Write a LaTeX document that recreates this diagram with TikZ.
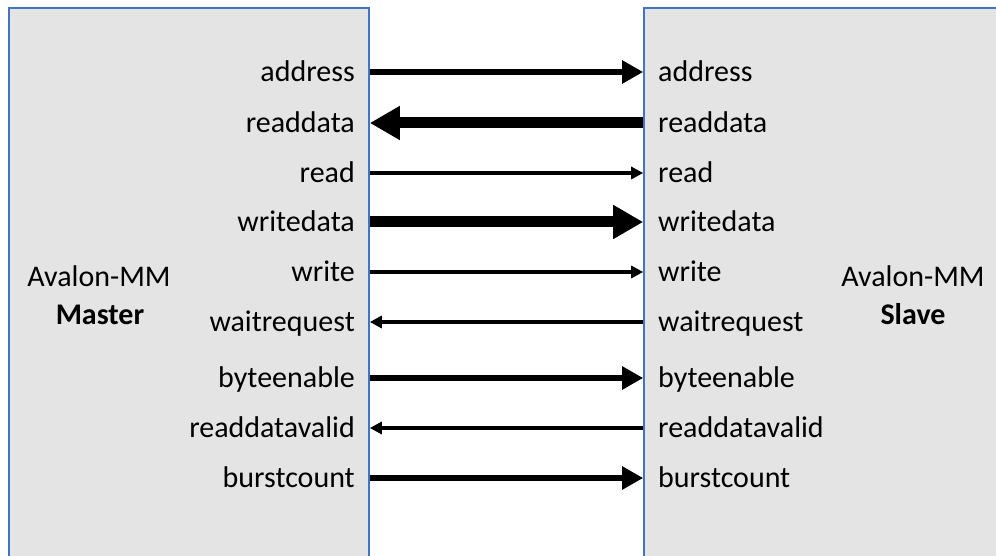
\documentclass[tikz,border=0pt]{standalone}
\usepackage{fontspec}
\setmainfont{Carlito}
\usetikzlibrary{arrows.meta}
\definecolor{boxfill}{RGB}{228,228,228}
\definecolor{boxline}{RGB}{68,114,196}
\begin{document}
\begin{tikzpicture}[x=1pt,y=-1pt,
  font=\fontsize{30}{36}\selectfont,
  unit/.style={draw=boxline,line width=1.6pt,fill=boxfill,inner sep=0pt},
  lsig/.style={anchor=base east,inner sep=0pt},
  rsig/.style={anchor=base west,inner sep=0pt},
  thin/.style={line width=3.5pt,-{Triangle[length=12pt,width=12pt]}},
  mid/.style={line width=6pt,-{Triangle[length=21pt,width=22pt]}},
  fat/.style={line width=11pt,-{Triangle[length=30pt,width=32pt]}}]
\clip (0,0) rectangle (996,556);
\useasboundingbox (0,0) rectangle (996,556);
\fill[white] (0,0) rectangle (996,556);

% the two interface blocks
\node[unit,minimum width=360pt,minimum height=592pt] (master) at (189,304) {};
\node[unit,minimum width=366pt,minimum height=592pt] (slave) at (827,304) {};

% block titles
\node[inner sep=0pt,anchor=base] (mt1) at (99,286) {Avalon-MM};
\node[inner sep=0pt,anchor=base] (mt2) at (100,324) {\bfseries Master};
\node[inner sep=0pt,anchor=base] (st1) at (913,286) {Avalon-MM};
\node[inner sep=0pt,anchor=base] (st2) at (913,324) {\bfseries Slave};

% signal rows: name, vertical position
\foreach \n/\y in {1/72,2/123,3/173,4/222,5/272,6/322,7/378,8/428,9/478}{
  \coordinate (row\n) at (0,\y);
}
\foreach \n/\t in {1/address,2/readdata,3/read,4/writedata,5/write,
                   6/waitrequest,7/byteenable,8/readdatavalid,9/burstcount}{
  \node[lsig] (ml\n) at ([yshift=-9.5pt]355,0 |- row\n) {\t};
  \node[rsig] (sl\n) at ([yshift=-9.5pt]658,0 |- row\n) {\t};
}

% connections
\draw[mid]  (master.east |- row1) -- (slave.west |- row1);
\draw[fat]  (slave.west |- row2) -- (master.east |- row2);
\draw[thin] (master.east |- row3) -- (slave.west |- row3);
\draw[fat]  (master.east |- row4) -- (slave.west |- row4);
\draw[thin] (master.east |- row5) -- (slave.west |- row5);
\draw[thin] (slave.west |- row6) -- (master.east |- row6);
\draw[mid]  (master.east |- row7) -- (slave.west |- row7);
\draw[thin] (slave.west |- row8) -- (master.east |- row8);
\draw[mid]  (master.east |- row9) -- (slave.west |- row9);
\end{tikzpicture}
\end{document}
